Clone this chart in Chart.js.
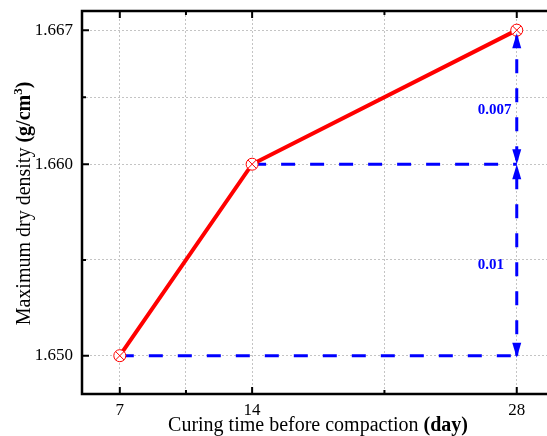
<!DOCTYPE html>
<html>
<head>
<meta charset="utf-8">
<script src="https://cdn.jsdelivr.net/npm/chart.js@4.4.1/dist/chart.umd.min.js"></script>
<style>
  html, body { margin: 0; padding: 0; background: #fff; overflow: hidden; }
  #wrap { width: 547px; height: 436px; position: relative; }
</style>
</head>
<body>
<div id="wrap"><canvas id="chart"></canvas></div>
<script>
// Curing time (days) vs. maximum dry density (g/cm3)
const curingDays    = [7, 14, 28];
const maxDryDensity = [1.650, 1.660, 1.667];

// Tick positions; blank labels are the minor ticks in between
const xTickValues = [7, 10.5, 14, 21, 28];
const xTickLabels = ['7', '', '14', '', '28'];
const yTickValues = [1.650, 1.655, 1.660, 1.6635, 1.667];
const yTickLabels = ['1.650', '', '1.660', '', '1.667'];

const SERIF = "'Liberation Serif', 'Times New Roman', serif";

const points  = curingDays.map((d, i) => ({ x: d, y: maxDryDensity[i] }));
const lastDay = curingDays[curingDays.length - 1];

// dashed guides: each earlier level carried across to the last day, plus the vertical span
const guideLow  = [{ x: curingDays[0], y: maxDryDensity[0] }, { x: lastDay, y: maxDryDensity[0] }];
const guideMid  = [{ x: curingDays[1], y: maxDryDensity[1] }, { x: lastDay, y: maxDryDensity[1] }];
const guideVert = [{ x: lastDay, y: maxDryDensity[2] }, { x: lastDay, y: maxDryDensity[0] }];

const fmtDiff = (a, b) => String(parseFloat((a - b).toFixed(3)));

function drawRich(ctx, parts, x, y) {
  // parts: [{text, bold, size, rise}] drawn centred on x
  let total = 0;
  parts.forEach(p => {
    ctx.font = (p.bold ? 'bold ' : '') + p.size + 'px ' + SERIF;
    p.w = ctx.measureText(p.text).width;
    total += p.w;
  });
  let cx = x - total / 2;
  ctx.textAlign = 'left';
  ctx.textBaseline = 'alphabetic';
  parts.forEach(p => {
    ctx.font = (p.bold ? 'bold ' : '') + p.size + 'px ' + SERIF;
    ctx.fillText(p.text, cx, y - (p.rise || 0));
    cx += p.w;
  });
}

function arrowHead(ctx, tx, ty, dir) {
  // dir -1 points up, +1 points down
  ctx.beginPath();
  ctx.moveTo(tx, ty);
  ctx.lineTo(tx - 4.5, ty - dir * 15);
  ctx.lineTo(tx + 4.5, ty - dir * 15);
  ctx.closePath();
  ctx.fill();
}

const noEdgePadding = s => {
  s.paddingLeft = 0; s.paddingRight = 0;
  s.paddingTop = 0;  s.paddingBottom = 0;
};

const framePlugin = {
  id: 'frame',
  afterDatasetsDraw(chart) {
    const { ctx, chartArea: a, scales: { x, y } } = chart;
    ctx.save();

    // arrows and difference labels on the vertical guide
    const ax = x.getPixelForValue(lastDay);
    const yTop = y.getPixelForValue(maxDryDensity[2]);
    const yMid = y.getPixelForValue(maxDryDensity[1]);
    const yLow = y.getPixelForValue(maxDryDensity[0]);
    ctx.fillStyle = '#0000ff';
    arrowHead(ctx, ax, yTop + 3, -1);
    arrowHead(ctx, ax, yMid, 1);
    arrowHead(ctx, ax, yMid, -1);
    arrowHead(ctx, ax, yLow + 2, 1);

    ctx.font = 'bold 15px ' + SERIF;
    ctx.textAlign = 'left';
    ctx.textBaseline = 'middle';
    ctx.fillText(fmtDiff(maxDryDensity[2], maxDryDensity[1]), ax - 39, (yTop + yMid) / 2 + 13);
    ctx.fillText(fmtDiff(maxDryDensity[1], maxDryDensity[0]), ax - 39, (yMid + yLow) / 2 + 5);

    // axis frame (left, bottom, top)
    ctx.strokeStyle = '#000';
    ctx.lineWidth = 2.5;
    ctx.beginPath();
    ctx.moveTo(a.right, a.top);
    ctx.lineTo(a.left, a.top);
    ctx.lineTo(a.left, a.bottom);
    ctx.lineTo(a.right, a.bottom);
    ctx.stroke();

    // inward ticks
    ctx.lineWidth = 2;
    ctx.beginPath();
    xTickValues.forEach((v, i) => {
      const px = x.getPixelForValue(v);
      const len = xTickLabels[i] ? 7 : 4;
      ctx.moveTo(px, a.bottom); ctx.lineTo(px, a.bottom - len);
      ctx.moveTo(px, a.top);    ctx.lineTo(px, a.top + len);
    });
    yTickValues.forEach((v, i) => {
      const py = y.getPixelForValue(v);
      const len = yTickLabels[i] ? 7 : 4;
      ctx.moveTo(a.left, py); ctx.lineTo(a.left + len, py);
    });
    ctx.stroke();

    // axis titles
    ctx.fillStyle = '#000';
    drawRich(ctx, [
      { text: 'Curing time before compaction ', size: 20 },
      { text: '(day)', size: 20, bold: true }
    ], 318, 431);

    ctx.save();
    ctx.translate(30, (a.top + a.bottom) / 2 + 1);
    ctx.rotate(-Math.PI / 2);
    drawRich(ctx, [
      { text: 'Maximum dry density ', size: 20 },
      { text: '(g/cm', size: 20, bold: true },
      { text: '3', size: 13, bold: true, rise: 8 },
      { text: ')', size: 20, bold: true }
    ], 0, 0);
    ctx.restore();

    ctx.restore();
  }
};

new Chart(document.getElementById('chart'), {
  type: 'line',
  data: {
    datasets: [
      {
        data: points,
        showLine: false,
        pointStyle: 'crossRot',
        pointRadius: 6,
        pointBorderWidth: 1,
        pointBorderColor: '#ff0000',
        order: 0
      },
      {
        data: points,
        borderColor: '#ff0000',
        borderWidth: 4,
        tension: 0,
        pointStyle: 'circle',
        pointRadius: 6,
        pointBorderWidth: 1,
        pointBorderColor: '#ff0000',
        pointBackgroundColor: '#ffffff',
        order: 1
      },
      { data: guideLow,  borderColor: '#0000ff', borderWidth: 3, borderDash: [14, 15], pointRadius: 0, order: 2 },
      { data: guideMid,  borderColor: '#0000ff', borderWidth: 3, borderDash: [14, 15], pointRadius: 0, order: 2 },
      { data: guideVert, borderColor: '#0000ff', borderWidth: 3, borderDash: [14, 15], pointRadius: 0, order: 2 }
    ]
  },
  options: {
    responsive: true,
    maintainAspectRatio: false,
    animation: false,
    layout: {
      autoPadding: false,
      padding: { top: 11, right: 0, bottom: 0, left: 0 }
    },
    plugins: {
      legend: { display: false },
      tooltip: { enabled: false }
    },
    scales: {
      x: {
        type: 'linear',
        min: 5,
        max: 29.6,
        afterBuildTicks: s => { s.ticks = xTickValues.map(v => ({ value: v })); },
        afterFit: s => { s.height = 42; noEdgePadding(s); },
        ticks: {
          autoSkip: false,
          maxRotation: 0,
          padding: 6,
          color: '#000',
          font: { family: SERIF, size: 17 },
          callback: v => xTickLabels[xTickValues.indexOf(v)]
        },
        grid: { color: '#c4c4c4', lineWidth: 1, drawTicks: false },
        border: { display: false, dash: [2, 2] }
      },
      y: {
        min: 1.648,
        max: 1.668,
        afterBuildTicks: s => { s.ticks = yTickValues.map(v => ({ value: v })); },
        afterFit: s => { s.width = 82; noEdgePadding(s); },
        ticks: {
          autoSkip: false,
          padding: 9,
          color: '#000',
          font: { family: SERIF, size: 17 },
          callback: v => yTickLabels[yTickValues.indexOf(v)]
        },
        grid: { color: '#c4c4c4', lineWidth: 1, drawTicks: false },
        border: { display: false, dash: [2, 2] }
      }
    }
  },
  plugins: [framePlugin]
});
</script>
</body>
</html>
